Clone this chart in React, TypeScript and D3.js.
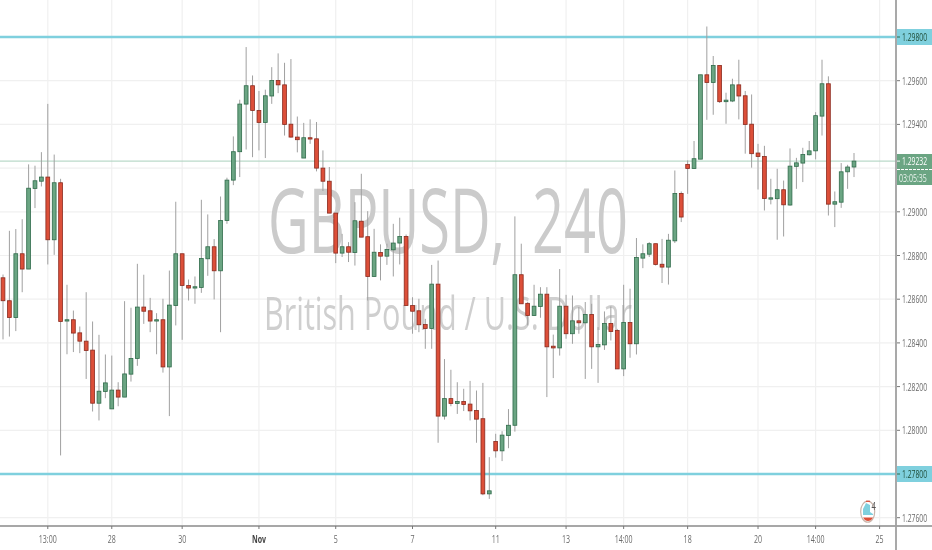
import React from "react";
import * as d3 from "d3";

// Prices in points (1 point = 0.00001)
const opens = [128698,128593,128516,128808,128738,129107,129140,129159,128872,129133,
128500,128506,128446,128408,128367,128124,128178,128098,128184,128152,
128257,128329,128564,128547,128500,128506,128290,128571,128808,128663,
128651,128654,128785,128840,128730,128960,129145,129275,129493,129577,
129464,129409,129530,129601,129581,129401,129342,129246,129339,129334,
129200,129140,128994,128811,128840,128814,128957,128886,128704,128814,
128797,128826,128857,128887,128571,128547,128484,128466,128669,128065,
128145,128123,128132,128120,128091,128053,127709,127949,127906,127976,
128023,128712,128581,128525,128567,128623,128385,128377,128568,128442,
128501,128492,128530,128382,128391,128489,128457,128281,128493,128396,
128788,128806,128854,128760,128747,128867,129084,129217,129198,129241,
129627,129592,129670,129504,129507,129581,129531,129401,129269,129253,
129058,129060,129101,129031,129208,129223,129261,129279,129438,129586,
129035,129044,129183,129205];
const closes = [128593,128516,128808,128738,129108,129142,129159,128872,129133,128498,
128506,128445,128408,128365,128124,128179,128217,128184,128152,128258,
128329,128564,128545,128500,128506,128290,128573,128808,128663,128651,
128657,128786,128840,128730,128960,129145,129275,129493,129577,129464,
129409,129531,129601,129581,129400,129342,129330,129339,129333,129200,
129140,128994,128811,128840,128815,128959,128884,128704,128815,128797,
128828,128857,128887,128571,128545,128483,128466,128669,128065,128145,
128123,128132,128118,128089,128051,127709,127723,127906,127978,128023,
128712,128579,128525,128568,128623,128382,128377,128568,128442,128501,
128492,128530,128382,128393,128489,128452,128281,128493,128396,128791,
128808,128854,128759,128747,128870,129084,128976,129198,129243,129627,
129592,129670,129504,129511,129581,129530,129400,129266,129253,129061,
129064,129101,129032,129209,129224,129262,129279,129440,129586,129035,
129046,129183,129205,129232];
const highs = [128713,128913,128921,128966,129217,129211,129273,129494,129262,129151,
128666,128548,128475,128632,128498,128437,128347,128342,128220,128591,
128561,128762,128712,128606,128536,128602,128731,129046,128808,128690,
128704,129055,128988,128875,129070,129156,129345,129513,129754,129624,
129553,129559,129662,129725,129682,129699,129436,129407,129423,129411,
129281,129205,128994,128899,128861,129044,129174,129003,128922,128851,
128854,128945,128973,128896,128609,128602,128510,128757,128777,128326,
128277,128220,128190,128226,128182,128217,127877,127984,127996,128097,
128979,128854,128587,128666,128655,128655,128438,128738,128620,128617,
128564,128587,128579,128472,128544,128567,128464,128666,128648,128880,
128851,128861,128854,128876,128899,129189,129093,129235,129324,129627,
129848,129713,129670,129545,129609,129696,129553,129537,129311,129302,
129151,129197,129143,129290,129247,129293,129324,129456,129696,129620,
129093,129223,129215,129269];
const lows = [128416,128429,128454,128632,128738,129017,129116,128759,128803,127885,
128348,128358,128353,128235,128086,128045,128147,128098,128110,128152,
128223,128295,128487,128449,128348,128264,128065,128480,128414,128594,
128579,128629,128707,128599,128449,128945,129122,129159,129285,129250,
129281,129246,129494,129543,129349,129339,129272,129246,129311,129185,
129095,128994,128765,128793,128770,128754,128884,128594,128704,128686,
128757,128704,128759,128571,128442,128449,128373,128373,127943,128049,
128110,128075,128088,128045,127943,127703,127686,127875,127859,127918,
127994,128579,128480,128525,128515,128152,128239,128342,128419,128396,
128442,128235,128281,128217,128368,128411,128281,128248,128332,128347,
128742,128793,128754,128674,128667,128857,128953,129082,129198,129241,
129421,129444,129498,129403,129502,129423,129266,129202,129102,129006,
129034,128872,128887,129028,129105,129136,129258,129240,129349,128983,
128930,129018,129105,129159];

const priceTicks = [1.276,1.278,1.28,1.282,1.284,1.286,1.288,1.29,1.292,1.294,1.296,1.298];
const hiddenPriceLabels = [1.292];
const levelLines = [1.298,1.278];
const lastPrice = 1.29232;
const countdown = "03:05:35";
const timeTickIndex = [7,17,28,40,52,64,77,88,97,107,118,127,137];
const timeTickLabels = ["13:00","28","30","Nov","5","7","11","13","14:00","18","20","14:00","25"];
const symbolTitle = "GBPUSD, 240";
const symbolName = "British Pound / U.S. Dollar";

const W = 932, H = 550, axisX = 896, axisY = 526;
const font = "'Open Sans', Roboto, sans-serif";
const GREEN = "#6ba583", GREEN_D = "#2f6b4a", RED = "#dc4f39", RED_D = "#8a2a1e", CYAN = "#7fd0de";

const x = d3.scaleLinear().domain([0, opens.length - 1]).range([3, 854]);
const y = d3.scaleLinear().domain([1.276, 1.298]).range([517.7, 37]);
const py = (p: number) => y(p / 100000);
const fmt = d3.format(".5f");
const squeeze = 0.62;

export default function App() {
  const last = y(lastPrice);
  return (
    <svg width={W} height={H} style={{ position: "fixed", left: 0, top: 0, display: "block", background: "#fff", filter: "blur(0.35px)" }} fontFamily={font}>
      {priceTicks.map(t => <line key={t} x1={0} x2={axisX} y1={y(t)} y2={y(t)} stroke="#f0f0f0" strokeWidth={1.2} />)}
      {timeTickIndex.map(i => <line key={i} x1={x(i)} x2={x(i)} y1={0} y2={axisY} stroke="#f0f0f0" strokeWidth={1.2} />)}

      <text x={268} y={253} fontSize={90} fill="#cbcbcb" wordSpacing={20} textLength={360} lengthAdjust="spacingAndGlyphs">{symbolTitle}</text>
      <text x={264} y={330} fontSize={45} fill="#cfcfcf" textLength={368} lengthAdjust="spacingAndGlyphs">{symbolName}</text>

      <line x1={0} x2={axisX} y1={last} y2={last} stroke="#a9d0bc" strokeWidth={1} />
      {levelLines.map(l => <line key={l} x1={0} x2={axisX} y1={y(l)} y2={y(l)} stroke={CYAN} strokeWidth={2.6} />)}

      {opens.map((o, i) => {
        const c = closes[i];
        const up = c >= o;
        const top = py(Math.max(o, c));
        const h = Math.max(py(Math.min(o, c)) - top, 1);
        return (
          <g key={i}>
            <line x1={x(i)} x2={x(i)} y1={py(highs[i])} y2={py(lows[i])} stroke="#a0a0a0" strokeWidth={1} />
            <rect x={x(i) - 1.9} width={3.8} y={top} height={h} fill={up ? GREEN : RED} stroke={up ? GREEN_D : RED_D} strokeWidth={0.8} />
          </g>
        );
      })}

      <g>
        <ellipse cx={867.7} cy={511.7} rx={7} ry={10.5} fill="#fff" stroke="#c9b4aa" strokeWidth={1.2} />
        <path d="M866,503 L870,505 L870,512 L873,514 L873,515 L863,515 L863,509 Z" fill={CYAN} />
        <path d="M863,517.5 L873,517.5 Q871,521 868,521 Q865,521 863,517.5 Z" fill={RED} />
        <path d="M866,501.3 L870,501.3" stroke={RED} strokeWidth={1.2} />
        <text transform={`translate(871.5,509.5) scale(0.7,1)`} fontSize={11} fill="#555">4</text>
      </g>

      <line x1={0} x2={W} y1={axisY} y2={axisY} stroke="#8a8a8a" strokeWidth={1.4} />
      <line x1={axisX} x2={axisX} y1={0} y2={H} stroke="#a0a0a0" strokeWidth={1.8} />

      {timeTickIndex.map((idx, i) => {
        const s = timeTickLabels[i];
        return (
          <g key={idx}>
            <line x1={x(idx)} x2={x(idx)} y1={axisY} y2={axisY + 3} stroke="#777" />
            <text transform={`translate(${x(idx)},543) scale(${squeeze + 0.02},1)`} textAnchor="middle" fontSize={11} fontWeight={s === "Nov" ? 700 : 400} fill={s === "Nov" ? "#444" : "#6a6a6a"}>{s}</text>
          </g>
        );
      })}

      {priceTicks.filter(t => !levelLines.includes(t) && !hiddenPriceLabels.includes(t)).map(t => (
        <g key={t}>
          <line x1={axisX + 1} x2={axisX + 4} y1={y(t)} y2={y(t)} stroke="#777" />
          <text transform={`translate(902,${y(t) + 4}) scale(${squeeze},1)`} fontSize={11} fill="#6a6a6a">{fmt(t)}</text>
        </g>
      ))}

      {levelLines.map(l => (
        <g key={l}>
          <rect x={axisX + 1} y={y(l) - 8} width={W - axisX - 1} height={16} fill={CYAN} />
          <line x1={axisX + 1} x2={axisX + 4} y1={y(l)} y2={y(l)} stroke="#2d6a4f" />
          <text transform={`translate(902,${y(l) + 4}) scale(${squeeze},1)`} fontSize={11} fill="#1f4d38">{fmt(l)}</text>
        </g>
      ))}

      <rect x={axisX + 1} y={154} width={W - axisX - 1} height={31} fill={GREEN} />
      <line x1={axisX + 1} x2={axisX + 4} y1={last} y2={last} stroke="#fff" />
      <line x1={axisX + 1} x2={W} y1={169.5} y2={169.5} stroke="#fff" strokeDasharray="3 1" strokeWidth={1} />
      <text transform={`translate(902,${last + 3.5}) scale(${squeeze},0.95)`} fontSize={11} fill="#fff">{fmt(lastPrice)}</text>
      <text transform={`translate(899,181.5) scale(0.64,0.95)`} fontSize={11} fill="#e8f2ec">{countdown}</text>
    </svg>
  );
}
